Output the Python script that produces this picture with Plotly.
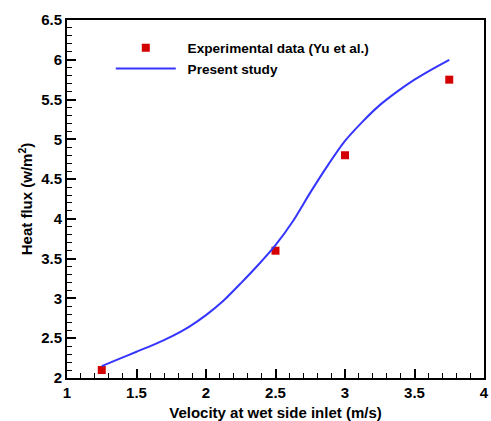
import plotly.graph_objects as go

# Experimental data (Yu et al.)
exp_velocity = [1.25, 2.5, 3.0, 3.75]
exp_heat_flux = [2.10, 3.60, 4.80, 5.75]

# Present study (numerical)
sim_velocity = [1.25, 1.375, 1.5, 1.625, 1.75, 1.875, 2.0, 2.125, 2.25, 2.375, 2.5,
                2.625, 2.75, 2.875, 3.0, 3.125, 3.25, 3.375, 3.5, 3.625, 3.75]
sim_heat_flux = [2.15, 2.24, 2.33, 2.42, 2.52, 2.64, 2.79, 2.97, 3.19, 3.42, 3.67,
                 3.97, 4.33, 4.67, 4.98, 5.22, 5.43, 5.60, 5.75, 5.88, 6.00]

FONT = "Liberation Sans, Arial, sans-serif"

fig = go.Figure()
fig.add_trace(go.Scatter(
    x=exp_velocity, y=exp_heat_flux, mode="markers",
    name="\u2002Experimental data (Yu et al.)",
    marker=dict(symbol="square", size=8, color="#D40000"),
))
fig.add_trace(go.Scatter(
    x=sim_velocity, y=sim_heat_flux, mode="lines",
    name="\u2002Present study",
    line=dict(color="#3535FF", width=2, shape="spline", smoothing=0.6),
))

axis_common = dict(
    showline=True, linecolor="black", linewidth=2, mirror=True,
    ticks="inside", ticklen=9, tickwidth=2, tickcolor="black",
    showgrid=False, zeroline=False,
    ticklabeloverflow="allow",
    tickfont=dict(family=FONT, size=15, color="black", weight="bold"),
    minor=dict(ticks="inside", ticklen=5, tickwidth=1, tickcolor="black", dtick=0.1, showgrid=False),
)

fig.update_xaxes(
    range=[1, 4], dtick=0.5, tick0=1,
    title=dict(text="Velocity at wet side inlet (m/s)", standoff=7,
               font=dict(family=FONT, size=15, color="black", weight="bold")),
    **axis_common,
)
fig.update_yaxes(
    range=[2, 6.5], dtick=0.5, tick0=2,
    title=dict(text="Heat flux (w/m<sup>2</sup>)", standoff=5,
               font=dict(family=FONT, size=15, color="black", weight="bold")),
    **axis_common,
)

fig.update_layout(
    width=491, height=421,
    margin=dict(l=67, r=2, t=20, b=40),
    paper_bgcolor="white", plot_bgcolor="white",
    showlegend=True,
    legend=dict(
        x=0.105, y=0.965, xanchor="left", yanchor="top",
        bgcolor="rgba(0,0,0,0)", borderwidth=0,
        itemwidth=60,
        font=dict(family=FONT, size=13.6, color="black", weight="bold"),
        tracegroupgap=0,
    ),
)

fig.write_html("out.html")
